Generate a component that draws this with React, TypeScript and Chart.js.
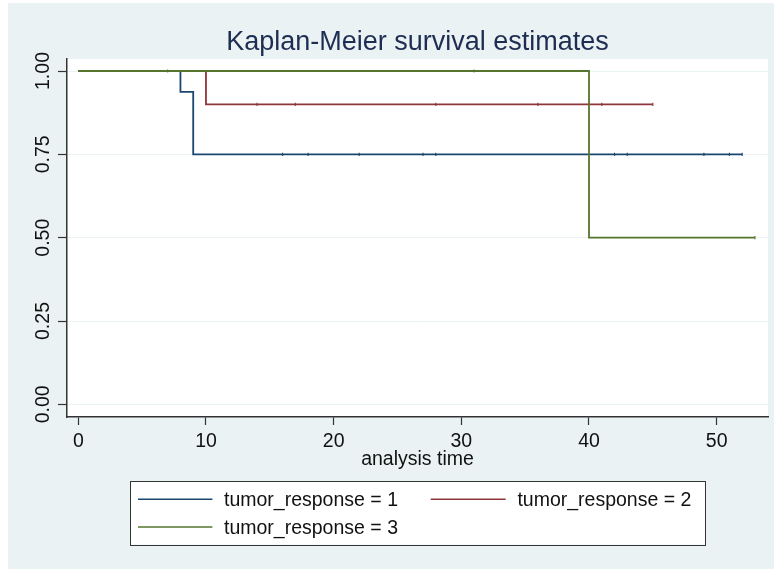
import React, { useEffect, useRef } from 'react';
import { Chart, registerables } from 'chart.js';

Chart.register(...registerables);

const FONT = '"Liberation Sans", Arial, Helvetica, sans-serif';

const TITLE = 'Kaplan-Meier survival estimates';
const X_TITLE = 'analysis time';
const xTickValues = [0, 10, 20, 30, 40, 50];
const yTickValues = [0, 0.25, 0.5, 0.75, 1];
const yTickLabels = ['0.00', '0.25', '0.50', '0.75', '1.00'];
const seriesLabels = ['tumor_response = 1', 'tumor_response = 2', 'tumor_response = 3'];
const seriesColors = ['#1A476F', '#90353B', '#55752F'];

// group 1
const g1Times = [0, 8, 9, 16, 18, 22, 27, 28, 42, 43, 49, 51, 52];
const g1Surv = [1, 0.9375, 0.75, 0.75, 0.75, 0.75, 0.75, 0.75, 0.75, 0.75, 0.75, 0.75, 0.75];
const g1Censored = [16, 18, 22, 27, 28, 42, 43, 49, 51, 52];
// group 2
const g2Times = [0, 10, 14, 17, 28, 36, 41, 45];
const g2Surv = [1, 0.9, 0.9, 0.9, 0.9, 0.9, 0.9, 0.9];
const g2Censored = [14, 17, 28, 36, 41, 45];
// group 3
const g3Times = [0, 7, 31, 40, 53];
const g3Surv = [1, 1, 1, 0.5, 0.5];
const g3Censored = [7, 31, 53];

function makeDataset(label: string, color: string, times: number[], surv: number[], cens: number[], order: number) {
  return {
    label,
    data: times.map((t, i) => ({ x: t, y: surv[i] })),
    borderColor: color,
    backgroundColor: color,
    borderWidth: 1.8,
    stepped: 'before' as const,
    fill: false,
    order,
    pointStyle: 'line' as const,
    pointRotation: 90,
    pointRadius: times.map((t) => (cens.includes(t) ? 1.6 : 0)),
    pointBorderWidth: 1.1,
    pointBorderColor: color,
    pointHoverRadius: 0,
  };
}

const bgPlugin = {
  id: 'plotBg',
  beforeDraw(chart: any) {
    const { ctx, chartArea } = chart;
    ctx.save();
    ctx.fillStyle = '#ffffff';
    ctx.fillRect(chartArea.left, chartArea.top, chartArea.right - chartArea.left, chartArea.bottom - chartArea.top);
    ctx.restore();
  },
};

const stataPlugin = {
  id: 'stataDecor',
  afterDraw(chart: any) {
    const { ctx, chartArea } = chart;
    const cx = (chartArea.left + chartArea.right) / 2;
    ctx.save();
    // title
    ctx.fillStyle = '#1E2D52';
    ctx.font = `27px ${FONT}`;
    ctx.textAlign = 'center';
    ctx.textBaseline = 'middle';
    ctx.fillText(TITLE, cx, 40);

    // legend
    const boxW = 575;
    const boxH = 63.6;
    const left = Math.round(cx - boxW / 2);
    const top = Math.round(chartArea.bottom + 63.7);
    ctx.fillStyle = '#ffffff';
    ctx.fillRect(left, top, boxW, boxH);
    ctx.strokeStyle = '#333333';
    ctx.lineWidth = 1;
    ctx.strokeRect(left + 0.5, top + 0.5, boxW, Math.round(boxH));
    const rows = [top + 18.3, top + 46];
    const cols = [
      { l0: 8, l1: 82.4, tx: 94 },
      { l0: 300.7, l1: 375.7, tx: 387.4 },
    ];
    ctx.font = `19.5px ${FONT}`;
    ctx.textAlign = 'left';
    seriesLabels.forEach((lab, i) => {
      const r = Math.floor(i / 2);
      const c = i % 2;
      const y = rows[r];
      ctx.strokeStyle = seriesColors[i];
      ctx.lineWidth = 1.6;
      ctx.beginPath();
      ctx.moveTo(left + cols[c].l0, y);
      ctx.lineTo(left + cols[c].l1, y);
      ctx.stroke();
      ctx.fillStyle = '#111111';
      ctx.fillText(lab, left + cols[c].tx, y + 1.5);
    });
    ctx.restore();
  },
};

export default function App() {
  const canvasRef = useRef<HTMLCanvasElement | null>(null);

  useEffect(() => {
    const canvas = canvasRef.current;
    if (!canvas) return;
    Chart.defaults.font.family = FONT;
    const chart = new Chart(canvas, {
      type: 'line',
      data: {
        datasets: [
          makeDataset(seriesLabels[0], seriesColors[0], g1Times, g1Surv, g1Censored, 2),
          makeDataset(seriesLabels[1], seriesColors[1], g2Times, g2Surv, g2Censored, 1),
          makeDataset(seriesLabels[2], seriesColors[2], g3Times, g3Surv, g3Censored, 0),
        ],
      },
      options: {
        animation: false,
        responsive: false,
        devicePixelRatio: 1,
        events: [],
        layout: { padding: { left: 0, right: 6, top: 56, bottom: 97.3 } },
        plugins: {
          legend: { display: false },
          tooltip: { enabled: false },
          title: { display: false },
        },
        scales: {
          x: {
            type: 'linear',
            min: -0.885,
            max: 54.02,
            afterBuildTicks: (s: any) => {
              s.ticks = xTickValues.map((v) => ({ value: v }));
            },
            afterFit: (s: any) => {
              s.height = 54.7;
            },
            ticks: {
              padding: 4.6,
              color: '#111111',
              font: { size: 19.5, family: FONT },
              maxRotation: 0,
              minRotation: 0,
              autoSkip: false,
              callback: (v: any) => String(v),
            },
            grid: {
              drawOnChartArea: false,
              drawTicks: true,
              tickLength: 8,
              tickColor: '#333333',
              tickWidth: 1.2,
            },
            border: { display: true, color: '#333333', width: 1.5 },
            title: {
              display: true,
              text: X_TITLE,
              color: '#111111',
              font: { size: 19.5, family: FONT },
              padding: { top: 0, bottom: 0 },
            },
          },
          y: {
            type: 'linear',
            min: -0.038,
            max: 1.036,
            afterBuildTicks: (s: any) => {
              s.ticks = yTickValues.map((v) => ({ value: v }));
            },
            afterFit: (s: any) => {
              s.width = 59;
            },
            ticks: {
              padding: -5,
              crossAlign: 'center',
              minRotation: 90,
              maxRotation: 90,
              color: '#111111',
              font: { size: 19.5, family: FONT },
              autoSkip: false,
              callback: (_v: any, i: number) => yTickLabels[i],
            },
            grid: {
              color: '#EAF2F3',
              lineWidth: 1,
              drawTicks: true,
              tickLength: 9,
              tickColor: '#333333',
              tickWidth: 1.2,
            },
            border: { display: true, color: '#333333', width: 1.5 },
          },
        },
      },
      plugins: [bgPlugin, stataPlugin],
    } as any);
    return () => chart.destroy();
  }, []);

  return (
    <div style={{ position: 'fixed', left: 0, top: 0, width: 774, height: 569, background: '#ffffff', overflow: 'hidden' }}>
      <div style={{ position: 'absolute', left: 8, top: 3, width: 766, height: 566, background: '#EAF2F3' }}>
        <canvas ref={canvasRef} width={766} height={566} style={{ display: 'block', width: 766, height: 566 }} />
      </div>
    </div>
  );
}
